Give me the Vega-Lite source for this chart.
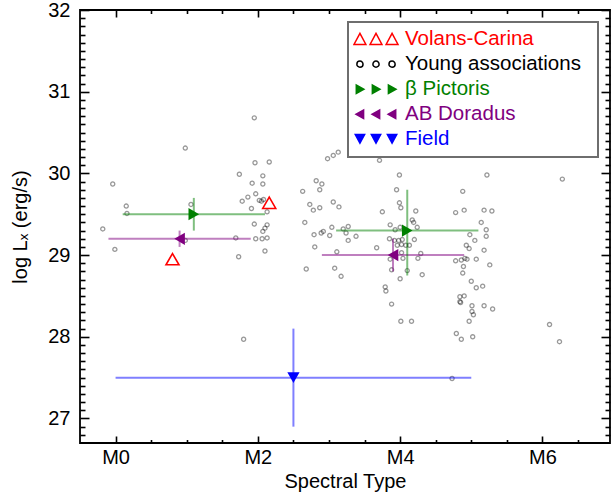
{
  "$schema": "https://vega.github.io/schema/vega-lite/v6.json",
  "width": 530,
  "height": 433,
  "autosize": {"type": "none"},
  "padding": {"left": 80, "top": 10, "right": 3, "bottom": 50},
  "config": {
    "view": {"stroke": "#000000", "strokeWidth": 1.8},
    "font": "Liberation Sans",
    "axis": {
      "grid": false,
      "domain": false,
      "tickColor": "#000000",
      "tickWidth": 1.6,
      "labelFont": "Liberation Sans",
      "labelFontSize": 20,
      "labelColor": "#000000",
      "titleFont": "Liberation Sans",
      "titleFontSize": 20,
      "titleFontWeight": "normal",
      "titleColor": "#000000",
      "labelOverlap": false,
      "labelFlush": false
    },
    "legend": {
      "labelFont": "Liberation Sans",
      "labelFontSize": 20.5,
      "strokeWidth": 2
    }
  },
  "datasets": {
    "young": [
      {"sp": -0.18, "lx": 29.32}, {"sp": -0.04, "lx": 29.87}, {"sp": -0.01, "lx": 29.07}, {"sp": 0.15, "lx": 29.60}, {"sp": 0.16, "lx": 29.51},
      {"sp": 0.98, "lx": 30.31}, {"sp": 1.06, "lx": 29.62}, {"sp": 0.98, "lx": 29.18}, {"sp": 1.69, "lx": 29.21}, {"sp": 1.73, "lx": 28.98},
      {"sp": 1.74, "lx": 29.99}, {"sp": 1.78, "lx": 29.66}, {"sp": 1.86, "lx": 29.71}, {"sp": 1.80, "lx": 27.97}, {"sp": 1.91, "lx": 29.57},
      {"sp": 1.92, "lx": 29.88}, {"sp": 1.95, "lx": 29.38}, {"sp": 1.95, "lx": 30.68}, {"sp": 1.96, "lx": 30.13}, {"sp": 1.97, "lx": 29.75},
      {"sp": 1.97, "lx": 29.20}, {"sp": 2.02, "lx": 29.67}, {"sp": 2.05, "lx": 29.66}, {"sp": 2.08, "lx": 29.68}, {"sp": 2.06, "lx": 29.20},
      {"sp": 2.07, "lx": 29.29}, {"sp": 2.07, "lx": 29.97}, {"sp": 2.07, "lx": 29.87}, {"sp": 2.10, "lx": 29.05}, {"sp": 2.10, "lx": 29.33},
      {"sp": 2.13, "lx": 29.37}, {"sp": 2.13, "lx": 29.53}, {"sp": 2.13, "lx": 29.21}, {"sp": 2.16, "lx": 30.14}, {"sp": 2.63, "lx": 29.78},
      {"sp": 2.66, "lx": 29.40}, {"sp": 2.68, "lx": 28.83}, {"sp": 2.73, "lx": 29.62}, {"sp": 2.78, "lx": 29.55}, {"sp": 2.79, "lx": 29.25},
      {"sp": 2.80, "lx": 29.10}, {"sp": 2.82, "lx": 29.91}, {"sp": 2.87, "lx": 29.80}, {"sp": 2.87, "lx": 29.58}, {"sp": 2.89, "lx": 29.27},
      {"sp": 2.90, "lx": 29.87}, {"sp": 2.92, "lx": 29.29}, {"sp": 2.98, "lx": 30.18}, {"sp": 3.01, "lx": 29.24}, {"sp": 3.04, "lx": 29.34},
      {"sp": 3.06, "lx": 30.22}, {"sp": 3.06, "lx": 29.65}, {"sp": 3.08, "lx": 28.84}, {"sp": 3.11, "lx": 29.04}, {"sp": 3.13, "lx": 30.26},
      {"sp": 3.14, "lx": 29.59}, {"sp": 3.17, "lx": 28.74}, {"sp": 3.20, "lx": 29.32}, {"sp": 3.24, "lx": 29.27}, {"sp": 3.27, "lx": 29.18},
      {"sp": 3.27, "lx": 29.35}, {"sp": 3.38, "lx": 29.23}, {"sp": 3.67, "lx": 29.09}, {"sp": 3.71, "lx": 30.16}, {"sp": 3.75, "lx": 29.53},
      {"sp": 3.79, "lx": 28.61}, {"sp": 3.80, "lx": 28.56}, {"sp": 3.85, "lx": 29.20}, {"sp": 3.86, "lx": 29.37}, {"sp": 3.86, "lx": 28.95},
      {"sp": 3.88, "lx": 28.82}, {"sp": 3.88, "lx": 28.40}, {"sp": 3.92, "lx": 29.18}, {"sp": 3.93, "lx": 29.31}, {"sp": 3.95, "lx": 29.80},
      {"sp": 3.96, "lx": 29.12}, {"sp": 3.98, "lx": 29.18}, {"sp": 3.99, "lx": 29.98}, {"sp": 3.99, "lx": 29.64}, {"sp": 4.00, "lx": 29.34},
      {"sp": 4.00, "lx": 28.71}, {"sp": 4.01, "lx": 29.58}, {"sp": 4.01, "lx": 28.19}, {"sp": 4.02, "lx": 29.03}, {"sp": 4.02, "lx": 29.13},
      {"sp": 4.03, "lx": 29.19}, {"sp": 4.04, "lx": 28.96}, {"sp": 4.08, "lx": 29.12}, {"sp": 4.10, "lx": 28.81}, {"sp": 4.13, "lx": 29.12},
      {"sp": 4.16, "lx": 28.19}, {"sp": 4.17, "lx": 29.43}, {"sp": 4.19, "lx": 29.40}, {"sp": 4.20, "lx": 29.19}, {"sp": 4.22, "lx": 29.54},
      {"sp": 4.24, "lx": 29.34}, {"sp": 4.25, "lx": 28.96}, {"sp": 4.29, "lx": 29.02}, {"sp": 4.31, "lx": 28.76}, {"sp": 4.73, "lx": 27.49},
      {"sp": 4.78, "lx": 29.52}, {"sp": 4.78, "lx": 28.93}, {"sp": 4.79, "lx": 28.04}, {"sp": 4.84, "lx": 28.49}, {"sp": 4.84, "lx": 28.43},
      {"sp": 4.85, "lx": 28.42}, {"sp": 4.86, "lx": 27.97}, {"sp": 4.86, "lx": 28.94}, {"sp": 4.88, "lx": 29.78}, {"sp": 4.88, "lx": 28.78},
      {"sp": 4.89, "lx": 28.86}, {"sp": 4.90, "lx": 29.55}, {"sp": 4.90, "lx": 28.50}, {"sp": 4.91, "lx": 28.96}, {"sp": 4.93, "lx": 29.12},
      {"sp": 4.94, "lx": 28.95}, {"sp": 4.97, "lx": 29.08}, {"sp": 4.97, "lx": 28.19}, {"sp": 4.98, "lx": 29.25}, {"sp": 5.00, "lx": 28.68},
      {"sp": 5.01, "lx": 28.31}, {"sp": 5.01, "lx": 28.38}, {"sp": 5.02, "lx": 28.00}, {"sp": 5.03, "lx": 28.27}, {"sp": 5.05, "lx": 29.18},
      {"sp": 5.07, "lx": 28.95}, {"sp": 5.07, "lx": 28.60}, {"sp": 5.14, "lx": 29.40}, {"sp": 5.16, "lx": 28.62}, {"sp": 5.18, "lx": 29.55},
      {"sp": 5.18, "lx": 29.06}, {"sp": 5.18, "lx": 28.38}, {"sp": 5.21, "lx": 29.23}, {"sp": 5.21, "lx": 29.31}, {"sp": 5.22, "lx": 29.98},
      {"sp": 5.26, "lx": 28.88}, {"sp": 5.29, "lx": 29.54}, {"sp": 5.30, "lx": 28.34}, {"sp": 6.10, "lx": 28.15}, {"sp": 6.24, "lx": 27.94},
      {"sp": 6.28, "lx": 29.93}
    ],
    "volans": [
      {"sp": 0.80, "lx": 28.95},
      {"sp": 2.16, "lx": 29.64}
    ],
    "groups": [
      {"group": "β Pictoris", "sp": 1.1, "splo": 0.1, "sphi": 2.1, "lx": 29.5, "lxlo": 29.3, "lxhi": 29.7},
      {"group": "β Pictoris", "sp": 4.1, "splo": 3.1, "sphi": 5.1, "lx": 29.3, "lxlo": 28.75, "lxhi": 29.8},
      {"group": "AB Doradus", "sp": 0.9, "splo": -0.1, "sphi": 1.9, "lx": 29.2, "lxlo": 29.1, "lxhi": 29.3},
      {"group": "AB Doradus", "sp": 3.9, "splo": 2.9, "sphi": 4.9, "lx": 29.0, "lxlo": 28.8, "lxhi": 29.2},
      {"group": "Field", "sp": 2.5, "splo": 0.0, "sphi": 5.0, "lx": 27.5, "lxlo": 26.9, "lxhi": 28.1}
    ],
    "legendrows": [
      {"group": "Volans-Carina"},
      {"group": "Young associations"},
      {"group": "β Pictoris"},
      {"group": "AB Doradus"},
      {"group": "Field"}
    ]
  },
  "resolve": {
    "scale": {"shape": "independent"},
    "axis": {"x": "independent", "y": "independent"}
  },
  "layer": [
    {
      "data": {"name": "young"},
      "mark": {"type": "point", "shape": "circle", "filled": false, "color": "#000000", "opacity": 0.4, "size": 17, "strokeWidth": 1.3},
      "encoding": {
        "x": {
          "field": "sp", "type": "quantitative",
          "scale": {"domain": [-0.5, 6.95], "nice": false, "zero": false},
          "axis": {"orient": "bottom", "values": [0, 2, 4, 6], "labelExpr": "'M' + datum.value", "offset": -7, "tickSize": 7, "labelPadding": 4, "title": "Spectral Type", "titlePadding": 4}
        },
        "y": {
          "field": "lx", "type": "quantitative",
          "scale": {"domain": [26.7, 32], "nice": false, "zero": false},
          "axis": {"orient": "left", "values": [27, 28, 29, 30, 31, 32], "offset": -9, "tickSize": 9, "labelPadding": 10, "title": "log Lₓ (erg/s)", "titlePadding": 17}
        }
      }
    },
    {
      "data": {"name": "volans"},
      "mark": {"type": "point", "shape": "triangle-up", "filled": false, "color": "#ff0000", "opacity": 1, "size": 169, "strokeWidth": 1.6},
      "encoding": {
        "x": {
          "field": "sp", "type": "quantitative",
          "scale": {"domain": [-0.5, 6.95], "nice": false, "zero": false},
          "axis": {"orient": "bottom", "values": [0.5, 1, 1.5, 2.5, 3, 3.5, 4.5, 5, 5.5, 6.5], "offset": -3.5, "tickSize": 3.5, "labels": false, "title": null}
        },
        "y": {
          "field": "lx", "type": "quantitative",
          "scale": {"domain": [26.7, 32], "nice": false, "zero": false},
          "axis": {"orient": "left", "values": [26.8, 26.9, 27.1, 27.2, 27.3, 27.4, 27.5, 27.6, 27.7, 27.8, 27.9, 28.1, 28.2, 28.3, 28.4, 28.5, 28.6, 28.7, 28.8, 28.9, 29.1, 29.2, 29.3, 29.4, 29.5, 29.6, 29.7, 29.8, 29.9, 30.1, 30.2, 30.3, 30.4, 30.5, 30.6, 30.7, 30.8, 30.9, 31.1, 31.2, 31.3, 31.4, 31.5, 31.6, 31.7, 31.8, 31.9], "offset": -5, "tickSize": 5, "labels": false, "title": null}
        }
      }
    },
    {
      "data": {"name": "groups"},
      "mark": {"type": "rule", "strokeWidth": 2, "opacity": 0.5},
      "encoding": {
        "x": {
          "field": "splo", "type": "quantitative",
          "scale": {"domain": [-0.5, 6.95], "nice": false, "zero": false},
          "axis": {"orient": "top", "values": [0, 2, 4, 6], "offset": -7, "tickSize": 7, "labels": false, "title": null}
        },
        "x2": {"field": "sphi"},
        "y": {
          "field": "lx", "type": "quantitative",
          "scale": {"domain": [26.7, 32], "nice": false, "zero": false},
          "axis": {"orient": "right", "values": [27, 28, 29, 30, 31, 32], "offset": -9, "tickSize": 9, "labels": false, "title": null}
        },
        "color": {
          "field": "group", "type": "nominal",
          "scale": {"domain": ["β Pictoris", "AB Doradus", "Field"], "range": ["#008000", "#800080", "#0000ff"]},
          "legend": null
        }
      }
    },
    {
      "data": {"name": "groups"},
      "mark": {"type": "rule", "strokeWidth": 2, "opacity": 0.5},
      "encoding": {
        "x": {
          "field": "sp", "type": "quantitative",
          "scale": {"domain": [-0.5, 6.95], "nice": false, "zero": false},
          "axis": {"orient": "top", "values": [0.5, 1, 1.5, 2.5, 3, 3.5, 4.5, 5, 5.5, 6.5], "offset": -3.5, "tickSize": 3.5, "labels": false, "title": null}
        },
        "y": {
          "field": "lxlo", "type": "quantitative",
          "scale": {"domain": [26.7, 32], "nice": false, "zero": false},
          "axis": {"orient": "right", "values": [26.8, 26.9, 27.1, 27.2, 27.3, 27.4, 27.5, 27.6, 27.7, 27.8, 27.9, 28.1, 28.2, 28.3, 28.4, 28.5, 28.6, 28.7, 28.8, 28.9, 29.1, 29.2, 29.3, 29.4, 29.5, 29.6, 29.7, 29.8, 29.9, 30.1, 30.2, 30.3, 30.4, 30.5, 30.6, 30.7, 30.8, 30.9, 31.1, 31.2, 31.3, 31.4, 31.5, 31.6, 31.7, 31.8, 31.9], "offset": -5, "tickSize": 5, "labels": false, "title": null}
        },
        "y2": {"field": "lxhi"},
        "color": {
          "field": "group", "type": "nominal",
          "scale": {"domain": ["β Pictoris", "AB Doradus", "Field"], "range": ["#008000", "#800080", "#0000ff"]},
          "legend": null
        }
      }
    },
    {
      "data": {"name": "groups"},
      "mark": {"type": "point", "filled": true, "opacity": 1, "size": 150},
      "encoding": {
        "x": {"field": "sp", "type": "quantitative", "scale": {"domain": [-0.5, 6.95], "nice": false, "zero": false}, "axis": null},
        "y": {"field": "lx", "type": "quantitative", "scale": {"domain": [26.7, 32], "nice": false, "zero": false}, "axis": null},
        "color": {
          "field": "group", "type": "nominal",
          "scale": {"domain": ["β Pictoris", "AB Doradus", "Field"], "range": ["#008000", "#800080", "#0000ff"]},
          "legend": null
        },
        "shape": {
          "field": "group", "type": "nominal",
          "scale": {"domain": ["β Pictoris", "AB Doradus", "Field"], "range": ["triangle-right", "triangle-left", "triangle-down"]},
          "legend": null
        }
      }
    },
    {
      "data": {"name": "legendrows"},
      "mark": {
        "type": "point",
        "filled": true,
        "opacity": 0,
        "size": 1936,
        "strokeWidth": 1.5,
        "fill": {"expr": "datum.value === 'β Pictoris' ? '#008000' : datum.value === 'AB Doradus' ? '#800080' : datum.value === 'Field' ? '#0000ff' : 'transparent'"},
        "stroke": {"expr": "datum.value === 'Volans-Carina' ? '#ff0000' : datum.value === 'Young associations' ? '#000000' : 'transparent'"}
      },
      "encoding": {
        "shape": {
          "field": "group", "type": "nominal",
          "scale": {
            "domain": ["Volans-Carina", "Young associations", "β Pictoris", "AB Doradus", "Field"],
            "range": [
              "M-1,0.24L-0.46,0.24L-0.73,-0.26Z M-0.27,0.24L0.27,0.24L0,-0.26Z M0.46,0.24L1,0.24L0.73,-0.26Z",
              "M-0.87,0A0.14,0.14 0 1,0 -0.59,0A0.14,0.14 0 1,0 -0.87,0Z M-0.14,0A0.14,0.14 0 1,0 0.14,0A0.14,0.14 0 1,0 -0.14,0Z M0.59,0A0.14,0.14 0 1,0 0.87,0A0.14,0.14 0 1,0 0.59,0Z",
              "M-0.93,-0.25L-0.48,0L-0.93,0.25Z M-0.2,-0.25L0.25,0L-0.2,0.25Z M0.53,-0.25L0.98,0L0.53,0.25Z",
              "M-0.53,-0.25L-0.98,0L-0.53,0.25Z M0.2,-0.25L-0.25,0L0.2,0.25Z M0.93,-0.25L0.48,0L0.93,0.25Z",
              "M-1,-0.24L-0.46,-0.24L-0.73,0.26Z M-0.27,-0.24L0.27,-0.24L0,0.26Z M0.46,-0.24L1,-0.24L0.73,0.26Z"
            ]
          },
          "legend": {
            "title": null,
            "orient": "top-right",
            "offset": 12,
            "padding": 5,
            "rowPadding": 0,
            "clipHeight": 24.3,
            "symbolSize": 1936,
            "symbolOffset": 0,
            "symbolOpacity": 1,
            "symbolStrokeWidth": 1.5,
            "labelOffset": 6,
            "labelLimit": 400,
            "labelFont": "Liberation Sans",
            "labelFontSize": 20.5,
            "labelExpr": "datum.label + '  \u200b'",
            "labelColor": {"expr": "datum.value === 'Volans-Carina' ? '#ff0000' : datum.value === 'β Pictoris' ? '#008000' : datum.value === 'AB Doradus' ? '#800080' : datum.value === 'Field' ? '#0000ff' : '#000000'"},
            "fillColor": "#ffffff",
            "strokeColor": "#6e6e6e",
            "cornerRadius": 0
          }
        }
      }
    }
  ]
}
